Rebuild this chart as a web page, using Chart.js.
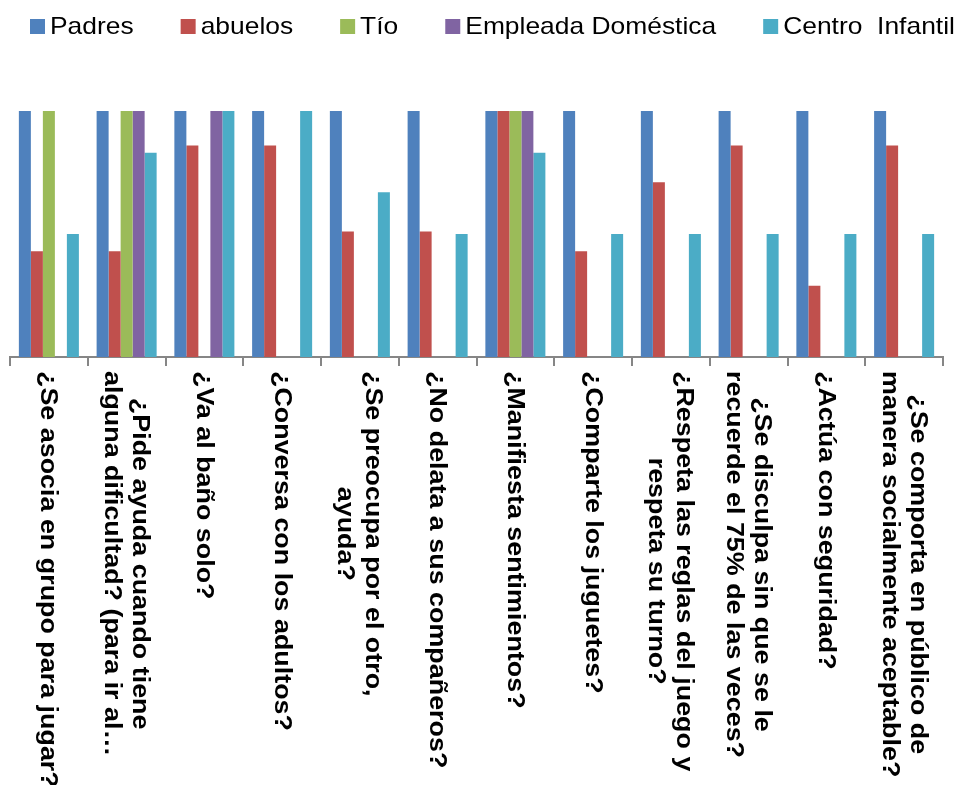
<!DOCTYPE html>
<html>
<head>
<meta charset="utf-8">
<script src="https://cdn.jsdelivr.net/npm/chart.js@4"></script>
<style>
html,body{margin:0;padding:0;background:#fff;}
#wrap{width:959px;height:785px;position:relative;}
</style>
</head>
<body>
<div id="wrap"><canvas id="c" width="959" height="785"></canvas></div>
<script>
const categories = [
  ["¿Se asocia en grupo para jugar?"],
  ["¿Pide ayuda cuando tiene", "alguna dificultad? (para ir al…"],
  ["¿Va al baño solo?"],
  ["¿Conversa con los adultos?"],
  ["¿Se preocupa por el otro,", "ayuda?"],
  ["¿No delata a sus compañeros?"],
  ["¿Manifiesta sentimientos?"],
  ["¿Comparte los juguetes?"],
  ["¿Respeta las reglas del juego y", "respeta su turno?"],
  ["¿Se disculpa sin que se le", "recuerde el 75% de las veces?"],
  ["¿Actúa con seguridad?"],
  ["¿Se comporta en público de", "manera socialmente aceptable?"]
];
const seriesNames = ["Padres", "abuelos", "Tío", "Empleada Doméstica", "Centro  Infantil"];
const padres   = [100, 100, 100, 100, 100, 100, 100, 100, 100, 100, 100, 100];
const abuelos  = [43, 43, 86, 86, 51, 51, 100, 43, 71, 86, 29, 86];
const tio      = [100, 100, 0, 0, 0, 0, 100, 0, 0, 0, 0, 0];
const empleada = [0, 100, 100, 0, 0, 0, 100, 0, 0, 0, 0, 0];
const centro   = [50, 83, 100, 100, 67, 50, 83, 50, 50, 50, 50, 50];
const colors = ["#4F81BD", "#C0504D", "#9BBB59", "#8064A2", "#4BACC6"];
const seriesValues = [padres, abuelos, tio, empleada, centro];

const FONT = "'Liberation Sans', Arial, sans-serif";

const customLabels = {
  id: 'customLabels',
  afterDraw(chart) {
    const ctx = chart.ctx;
    const xs = chart.scales.x;
    const yTop = 371;
    const lineH = 28;
    const stretch = 1.12;
    ctx.save();
    ctx.font = "bold 24px " + FONT;
    ctx.fillStyle = "#000";
    ctx.textBaseline = "middle";
    ctx.textAlign = "center";
    categories.forEach((lines, i) => {
      const xc = xs.getPixelForValue(i) - 1;
      let maxW = 0;
      lines.forEach(l => { maxW = Math.max(maxW, ctx.measureText(l).width); });
      const n = lines.length;
      ctx.save();
      ctx.translate(xc, yTop);
      ctx.rotate(Math.PI / 2);
      ctx.scale(stretch, 1);
      lines.forEach((l, j) => {
        const ry = (j - (n - 1) / 2) * lineH;
        ctx.fillText(l, maxW / 2, ry);
      });
      ctx.restore();
    });
    ctx.restore();
  }
};

const customLegend = {
  id: 'customLegend',
  afterDraw(chart) {
    const ctx = chart.ctx;
    ctx.save();
    ctx.font = "24px " + FONT;
    ctx.textBaseline = "alphabetic";
    ctx.textAlign = "left";
    const sx = 1.1;
    let x = 30;
    const gap = 47;
    chart.data.datasets.forEach((ds) => {
      ctx.fillStyle = ds.backgroundColor;
      ctx.fillRect(x, 19, 15, 15);
      const tx = x + 20;
      const w = ctx.measureText(ds.label).width * sx;
      ctx.fillStyle = "#000";
      ctx.save();
      ctx.translate(tx, 34);
      ctx.scale(sx, 1);
      ctx.fillText(ds.label, 0, 0);
      ctx.restore();
      x = tx + w + gap;
    });
    ctx.restore();
  }
};

new Chart(document.getElementById('c'), {
  type: 'bar',
  data: {
    labels: categories.map(c => c.join(' ')),
    datasets: seriesNames.map((name, k) => ({
      label: name,
      data: seriesValues[k],
      backgroundColor: colors[k],
      borderWidth: 0
    }))
  },
  options: {
    responsive: false,
    animation: false,
    maintainAspectRatio: false,
    layout: { padding: { left: 10, right: 16, top: 111, bottom: 419 } },
    datasets: { bar: { categoryPercentage: 0.772, barPercentage: 1.0 } },
    plugins: { legend: { display: false }, tooltip: { enabled: false } },
    scales: {
      x: {
        ticks: { display: false },
        grid: { display: true, drawOnChartArea: false, drawTicks: true, tickLength: 9, color: '#868686', lineWidth: 2, offset: true },
        border: { display: true, color: '#868686', width: 2 }
      },
      y: { display: false, min: 0, max: 100 }
    }
  },
  plugins: [customLabels, customLegend]
});
</script>
</body>
</html>
